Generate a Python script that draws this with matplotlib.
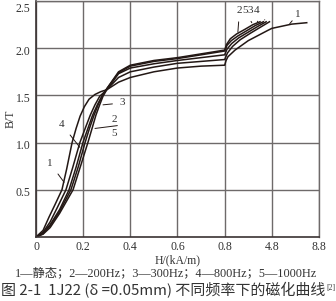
import numpy as np
import matplotlib
matplotlib.use("Agg")
import matplotlib.pyplot as plt
import matplotlib.transforms as mtransforms

# --- data (H in kA/m, B in T) ---
H1 = [0, 0.03, 0.055, 0.08, 0.11, 0.13, 0.153, 0.17, 0.187, 0.205, 0.225, 0.25, 0.275, 0.3, 0.35, 0.4, 0.5, 0.6,
      0.7, 0.8, 0.92, 1.08, 1.68, 2.8, 4.48, 4.8, 6.48, 7.76]
B1 = [0, 0.07, 0.21, 0.34, 0.5, 0.72, 1.0, 1.15, 1.28, 1.38, 1.46, 1.51, 1.54, 1.56, 1.64, 1.69, 1.75, 1.79,
      1.81, 1.82, 1.87, 1.91, 1.98, 2.08, 2.19, 2.21, 2.255, 2.27]

H2 = [0, 0.03, 0.06, 0.1, 0.14, 0.17, 0.199, 0.22, 0.24, 0.26, 0.277, 0.3, 0.35, 0.4, 0.5, 0.6, 0.7, 0.8,
      0.96, 1.28, 1.8, 2.52, 3.2, 3.8]
B2 = [0, 0.04, 0.13, 0.29, 0.5, 0.74, 1.0, 1.15, 1.29, 1.40, 1.48, 1.57, 1.75, 1.82, 1.87, 1.90, 1.94, 1.98,
      2.04, 2.10, 2.15, 2.20, 2.25, 2.28]

H3 = [0, 0.03, 0.06, 0.1, 0.157, 0.19, 0.22, 0.24, 0.254, 0.27, 0.284, 0.3, 0.35, 0.4, 0.5, 0.6, 0.7, 0.8,
      1.0, 1.4, 2.0, 2.8, 3.6, 4.32]
B3 = [0, 0.03, 0.1, 0.25, 0.5, 0.76, 1.0, 1.17, 1.29, 1.40, 1.49, 1.56, 1.73, 1.79, 1.835, 1.87, 1.90, 1.93,
      1.99, 2.05, 2.11, 2.17, 2.23, 2.28]

H4 = [0, 0.03, 0.06, 0.09, 0.127, 0.155, 0.186, 0.21, 0.23, 0.25, 0.27, 0.3, 0.35, 0.4, 0.5, 0.6, 0.7, 0.8,
      1.04, 1.48, 2.12, 3.0, 3.8, 4.6]
B4 = [0, 0.05, 0.16, 0.31, 0.5, 0.73, 1.0, 1.16, 1.29, 1.40, 1.49, 1.56, 1.69, 1.75, 1.80, 1.84, 1.86, 1.88,
      1.95, 2.02, 2.09, 2.16, 2.22, 2.28]

H5 = [0, 0.03, 0.06, 0.1, 0.148, 0.18, 0.208, 0.228, 0.246, 0.265, 0.28, 0.3, 0.35, 0.4, 0.5, 0.6, 0.7, 0.8,
      1.0, 1.36, 1.92, 2.6, 3.4, 4.08]
B5 = [0, 0.035, 0.12, 0.27, 0.5, 0.75, 1.0, 1.16, 1.29, 1.41, 1.49, 1.57, 1.74, 1.81, 1.86, 1.89, 1.93, 1.97,
      2.03, 2.08, 2.13, 2.18, 2.24, 2.28]

CURVES = [(H1, B1), (H2, B2), (H3, B3), (H4, B4), (H5, B5)]

X_TICKS = [0, 0.2, 0.4, 0.6, 0.8, 4.8, 8.8]
X_TICK_LABELS = ["0", "0.2", "0.4", "0.6", "0.8", "4.8", "8.8"]
Y_TICKS = [0.5, 1.0, 1.5, 2.0, 2.5]
Y_TICK_LABELS = ["0.5", "1.0", "1.5", "2.0", "2.5"]

# curve labels: (text, text pos H, B, leader end H, B)
LABELS = [
    ("1", 0.06, 0.78, 0.119, 0.58),
    ("4", 0.11, 1.19, 0.186, 0.95),
    ("3", 0.365, 1.42, 0.284, 1.40),
    ("2", 2.06, 2.40, 1.92, 2.17),
    ("5", 2.52, 2.40, 3.1, 2.27),
    ("3", 2.98, 2.40, 3.6, 2.28),
    ("4", 3.48, 2.40, 4.2, 2.30),
    ("1", 7.0, 2.36, 6.32, 2.26),
]

LEGEND_TEXT = "1—静态；2—200Hz；3—300Hz；4—800Hz；5—1000Hz"
CAPTION = "图 2-1  1J22 (δ =0.05mm) 不同频率下的磁化曲线"


def fwd(h):
    h = np.asarray(h, dtype=float)
    return np.where(h <= 0.8, h / 0.2, 4 + (h - 0.8) / 4.0)


def inv(u):
    u = np.asarray(u, dtype=float)
    return np.where(u <= 4, u * 0.2, 0.8 + (u - 4) * 4.0)


LINE_C = "#231815"
GRID_C = "#6e6a6a"
TEXT_C = "#333333"
SERIF = ["Liberation Serif", "Noto Sans CJK SC"]
FS = 8

fig = plt.figure(figsize=(3.36, 3.01), dpi=100)
ax = fig.add_axes([36 / 336, 64 / 301, 283 / 336, 236 / 301])
ax.set_xscale("function", functions=(fwd, inv))

for h, b in CURVES:
    ax.plot(h, b, color=LINE_C, lw=1.1, solid_joinstyle="round")

ax.set_xlim(0, 8.8)
ax.set_ylim(0, 2.5)
ax.set_xticks(X_TICKS)
ax.set_xticklabels(X_TICK_LABELS)
ax.set_xticks([], minor=True)
ax.set_yticks(Y_TICKS)
ax.set_yticklabels(Y_TICK_LABELS)
ax.tick_params(length=0, labelsize=8.5, colors=TEXT_C)
ax.tick_params(axis="x", pad=3)
ax.tick_params(axis="y", pad=4)
for lab in ax.get_xticklabels() + ax.get_yticklabels():
    lab.set_family(SERIF)
# y labels sit a little below their grid lines, top one pushed inside the image
for lab, dy in zip(ax.get_yticklabels(), [2, 2, 2, 2, 6]):
    lab.set_transform(lab.get_transform() +
                      mtransforms.ScaledTranslation(0, -dy / 100, fig.dpi_scale_trans))
ax.grid(True, color=GRID_C, lw=1.0)
for side in ["top", "right"]:
    ax.spines[side].set_color(GRID_C)
    ax.spines[side].set_linewidth(1.0)
for side in ["left", "bottom"]:
    ax.spines[side].set_color("#3a3232")
    ax.spines[side].set_linewidth(1.2)

for txt, tx, ty, px, py in LABELS:
    ax.annotate(txt, xy=(px, py), xytext=(tx, ty), family=SERIF, fontsize=FS,
                color=TEXT_C, ha="center", va="center",
                arrowprops=dict(arrowstyle="-", color=LINE_C, lw=0.7, shrinkA=3, shrinkB=0))

# "2" over "5" with one shared leader
ax.annotate("", xy=(0.25, 1.15), xytext=(0.345, 1.18),
            arrowprops=dict(arrowstyle="-", color=LINE_C, lw=0.7, shrinkA=0, shrinkB=0))
ax.text(0.33, 1.25, "2", family=SERIF, fontsize=FS, color=TEXT_C, ha="center", va="center")
ax.text(0.33, 1.10, "5", family=SERIF, fontsize=FS, color=TEXT_C, ha="center", va="center")

fig.text(11 / 336, 1 - 119 / 301, "B/T", family=SERIF, fontsize=8.5, color=TEXT_C,
         rotation=90, ha="center", va="center")
fig.text(0.53, 1 - 260 / 301, "H/(kA/m)", family=SERIF, fontsize=8.5, color=TEXT_C,
         ha="center", va="center")
fig.text(0.495, 1 - 273 / 301, LEGEND_TEXT, family=SERIF, fontsize=8.8, color=TEXT_C,
         ha="center", va="center")
cap = fig.text(0.003, 1 - 290 / 301, CAPTION, family=["Noto Sans CJK SC", "DejaVu Sans"],
               fontsize=10.8, color=TEXT_C, ha="left", va="center")

fig.canvas.draw()
bb = cap.get_window_extent(fig.canvas.get_renderer())
fig.text(bb.x1 / fig.bbox.width + 0.004, bb.y1 / fig.bbox.height - 0.008, "[2]",
         family=SERIF, fontsize=5.5, color=TEXT_C, ha="left", va="top")

fig.savefig("out.png", dpi=100)
